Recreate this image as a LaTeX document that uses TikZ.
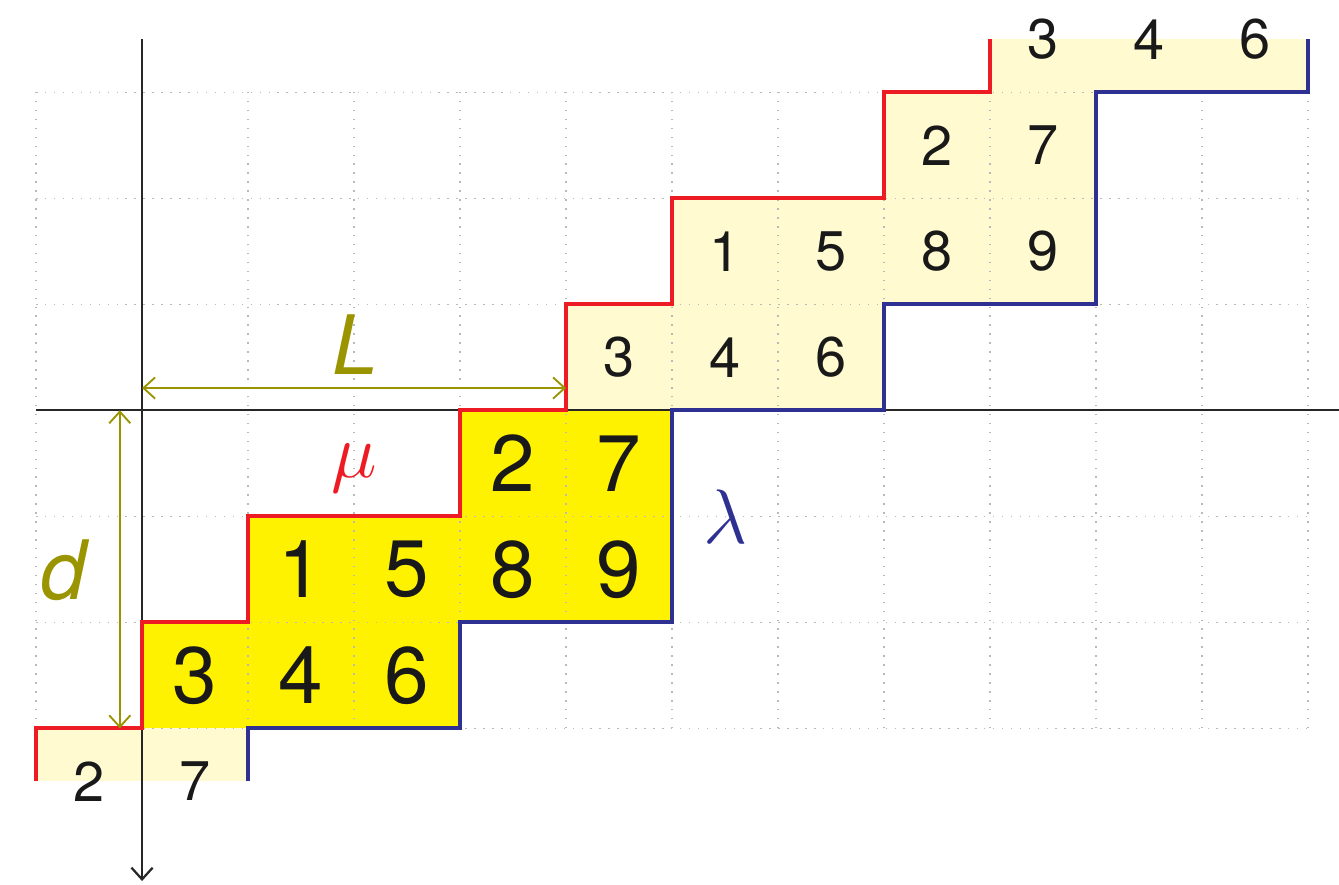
\documentclass[tikz,border=0pt]{standalone}
\usepackage{fontspec}
\setmainfont{TeX Gyre Heros}
\usepackage{tikz}
\usetikzlibrary{arrows.meta,positioning}
\definecolor{mured}{RGB}{237,28,36}
\definecolor{lamblue}{RGB}{46,49,146}
\definecolor{olivetone}{RGB}{153,148,0}
\definecolor{mainyellow}{RGB}{255,242,0}
\definecolor{paleyellow}{RGB}{255,250,208}
\tikzset{
    barb/.tip={Straight Barb[length=1.1mm,width=2mm]},
    bignum/.style={font=\fontsize{21.5}{24}\selectfont, text=black!90},
    smallnum/.style={font=\fontsize{15}{18}\selectfont, text=black!90},
    gridline/.style={gray!55, dotted, line width=0.4pt},
    axisline/.style={black!85, line width=0.6pt},
    measure/.style={olivetone, line width=0.5pt, barb-barb},
    bigsym/.style={font=\fontsize{22}{26}\selectfont}
}
\begin{document}
\begin{tikzpicture}
        \useasboundingbox (-1.34,-4.47) rectangle (11.29,3.87);
        % --- Skew shape (main copy) ---
        \foreach \cx/\cy/\lab in {
            3/-1/2,4/-1/7,
            1/-2/1,2/-2/5,3/-2/8,4/-2/9,
            0/-3/3,1/-3/4,2/-3/6} {
            \fill[mainyellow] (\cx,\cy) rectangle ++(1,1);
        }
        % --- Shifted copies ---
        \foreach \cx/\cy/\lab in {
            4/0/3,5/0/4,6/0/6,
            5/1/1,6/1/5,7/1/8,8/1/9,
            7/2/2,8/2/7} {
            \fill[paleyellow] (\cx,\cy) rectangle ++(1,1);
        }
        \foreach \cx in {8,9,10} {
            \fill[paleyellow] (\cx,3) rectangle ++(1,0.5);
        }
        \foreach \cx in {-1,0} {
            \fill[paleyellow] (\cx,-3.5) rectangle ++(1,0.5);
        }
        % Grid
        \draw[gridline] (-1,-3) grid (11,3);
        % Axes
        \coordinate (xleft) at (-1,0);
        \coordinate (xright) at (11.4,0);
        \coordinate (ytop) at (0,3.5);
        \coordinate (ybottom) at (0,-4.44);
        \draw[axisline] (xleft) -- (xright);
        \draw[axisline, -barb] (ytop) -- (ybottom);
        % Outlines mu and lambda
        \draw[mured, line width=1pt] (-1,-3.5) -- (-1,-3) -- (0,-3) -- (0,-2) -- (1,-2) -- (1,-1)
            -- (3,-1) -- (3,0) -- (4,0) -- (4,1) -- (5,1) -- (5,2) -- (7,2) -- (7,3) -- (8,3) -- (8,3.5);
        \draw[lamblue, line width=1pt] (1,-3.5) -- (1,-3) -- (3,-3) -- (3,-2) -- (5,-2) -- (5,0)
            -- (7,0) -- (7,1) -- (9,1) -- (9,3) -- (11,3) -- (11,3.5);
        % Entries
        \foreach \cx/\cy/\lab in {
            3/-1/2,4/-1/7,
            1/-2/1,2/-2/5,3/-2/8,4/-2/9,
            0/-3/3,1/-3/4,2/-3/6} {
            \node[bignum] (m\cx\cy) at (\cx+0.5,\cy+0.5) {\lab};
        }
        \foreach \cx/\cy/\lab in {
            4/0/3,5/0/4,6/0/6,
            5/1/1,6/1/5,7/1/8,8/1/9,
            7/2/2,8/2/7,
            8/3/3,9/3/4,10/3/6,
            -1/-4/2,0/-4/7} {
            \node[smallnum] (s\cx\cy) at (\cx+0.5,\cy+0.5) {\lab};
        }
        % Measures L and d
        \coordinate (lstart) at (0,0.21);
        \coordinate (lend) at (4,0.21);
        \coordinate (dstart) at (-0.21,0);
        \coordinate (dend) at (-0.21,-3);
        \draw[measure] (lstart) -- (lend);
        \draw[measure] (dstart) -- (dend);
        \node[bigsym, text=olivetone] (Llab) at (2.01,0.62) {\textit{L}};
        \node[bigsym, text=olivetone] (dlab) at (-0.73,-1.51) {\textit{d}};
        \node[bigsym, text=mured] (mulab) at (2.0,-0.55) {$\mu$};
        \node[bigsym, text=lamblue] (lamlab) at (5.5,-1.0) {$\lambda$};
\end{tikzpicture}
\end{document}
